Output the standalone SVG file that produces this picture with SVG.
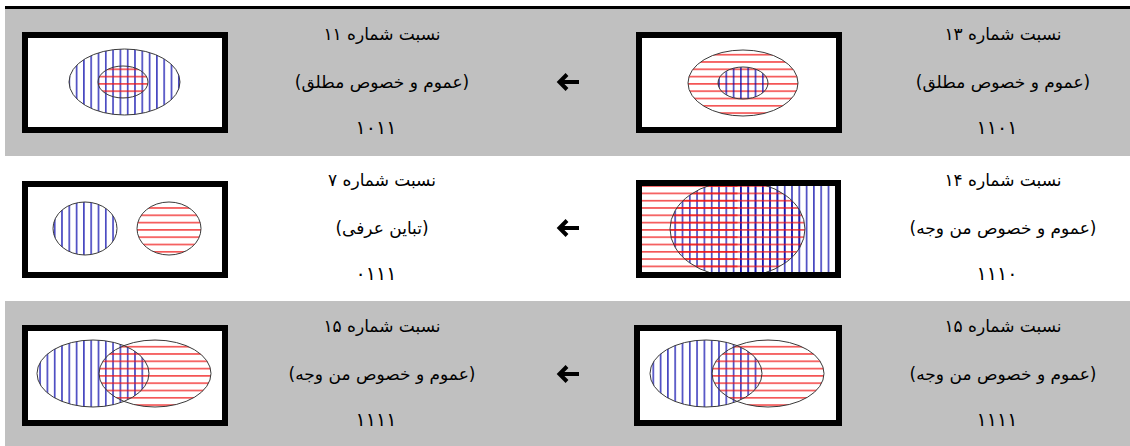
<svg xmlns="http://www.w3.org/2000/svg" width="1130" height="446" viewBox="0 0 1130 446">
<style>
.box{fill:#fff;stroke:#000;stroke-width:6}
.ell{fill:none;stroke:#3a3a3a;stroke-width:1}
.t{font-family:"DejaVu Sans",sans-serif;font-size:17px;fill:#000;text-anchor:middle;direction:rtl}
.d{font-size:19px}
.arr{fill:none;stroke:#000;stroke-width:4;stroke-linejoin:miter}
</style>
<defs>
<pattern id="vb" width="7.3" height="20" patternUnits="userSpaceOnUse"><rect x="3" y="0" width="1.2" height="20" fill="#0000a8"/></pattern>
<pattern id="hr" width="20" height="7.3" patternUnits="userSpaceOnUse"><rect x="0" y="3" width="20" height="1.2" fill="#f01010"/></pattern>
<clipPath id="c14"><rect x="642" y="186" width="193" height="86"/></clipPath>
</defs>
<rect x="0" y="0" width="1130" height="446" fill="#fff"/>
<rect x="5" y="9" width="1125" height="147" fill="#c0c0c0"/>
<rect x="5" y="301" width="1125" height="145" fill="#c0c0c0"/>
<rect x="5" y="6" width="1125" height="3" fill="#000"/>

<g id="n13">
<rect class="box" x="639" y="35" width="200" height="95"/>
<ellipse cx="743" cy="83" rx="55" ry="33" fill="url(#hr)"/>
<ellipse cx="743" cy="83" rx="25" ry="16" fill="url(#vb)"/>
<ellipse class="ell" cx="743" cy="83" rx="55" ry="33"/>
<ellipse class="ell" cx="743" cy="83" rx="25" ry="16"/>
<text class="t" x="1003" y="40">نسبت شماره ۱۳</text>
<text class="t" x="1003" y="88">(عموم و خصوص مطلق)</text>
<text class="t d" x="997" y="134">۱۱۰۱</text>
</g>

<g id="n11">
<rect class="box" x="25" y="35" width="200" height="95"/>
<ellipse cx="124.5" cy="82" rx="55.5" ry="33" fill="url(#vb)"/>
<ellipse cx="123" cy="82" rx="25" ry="16" fill="url(#hr)"/>
<ellipse class="ell" cx="124.5" cy="82" rx="55.5" ry="33"/>
<ellipse class="ell" cx="123" cy="82" rx="25" ry="16"/>
<text class="t" x="382" y="40">نسبت شماره ۱۱</text>
<text class="t" x="382" y="88">(عموم و خصوص مطلق)</text>
<text class="t d" x="376" y="134">۱۰۱۱</text>
</g>

<g id="n14">
<rect class="box" x="639" y="183" width="199" height="92"/>
<g clip-path="url(#c14)">
<ellipse cx="737.5" cy="229" rx="67.5" ry="48" fill="url(#vb)"/>
<rect x="737.5" y="186" width="98" height="86" fill="url(#vb)"/>
<ellipse cx="737.5" cy="229" rx="67.5" ry="48" fill="url(#hr)"/>
<rect x="642" y="186" width="95.5" height="86" fill="url(#hr)"/>
<ellipse class="ell" cx="737.5" cy="229" rx="67.5" ry="48"/>
</g>
<text class="t" x="1003" y="186">نسبت شماره ۱۴</text>
<text class="t" x="1003" y="234">(عموم و خصوص من وجه)</text>
<text class="t d" x="997" y="280">۱۱۱۰</text>
</g>

<g id="n7">
<rect class="box" x="25" y="184" width="200" height="91"/>
<ellipse cx="85" cy="228.5" rx="32" ry="26.5" fill="url(#vb)"/>
<ellipse cx="169" cy="228.5" rx="32" ry="26.5" fill="url(#hr)"/>
<ellipse class="ell" cx="85" cy="228.5" rx="32" ry="26.5"/>
<ellipse class="ell" cx="169" cy="228.5" rx="32" ry="26.5"/>
<text class="t" x="382" y="186">نسبت شماره ۷</text>
<text class="t" x="382" y="234">(تباین عرفی)</text>
<text class="t d" x="376" y="280">۰۱۱۱</text>
</g>

<g id="n15a">
<rect class="box" x="637" y="328" width="202" height="95"/>
<ellipse cx="706" cy="373.5" rx="56" ry="33.5" fill="url(#vb)"/>
<ellipse cx="768" cy="373.5" rx="56" ry="33.5" fill="url(#hr)"/>
<ellipse class="ell" cx="706" cy="373.5" rx="56" ry="33.5"/>
<ellipse class="ell" cx="768" cy="373.5" rx="56" ry="33.5"/>
<text class="t" x="1003" y="332">نسبت شماره ۱۵</text>
<text class="t" x="1003" y="380">(عموم و خصوص من وجه)</text>
<text class="t d" x="997" y="426">۱۱۱۱</text>
</g>

<g id="n15b">
<rect class="box" x="25" y="328" width="200" height="95"/>
<ellipse cx="93" cy="373.5" rx="56" ry="33.5" fill="url(#vb)"/>
<ellipse cx="155" cy="373.5" rx="56" ry="33.5" fill="url(#hr)"/>
<ellipse class="ell" cx="93" cy="373.5" rx="56" ry="33.5"/>
<ellipse class="ell" cx="155" cy="373.5" rx="56" ry="33.5"/>
<text class="t" x="382" y="332">نسبت شماره ۱۵</text>
<text class="t" x="382" y="380">(عموم و خصوص من وجه)</text>
<text class="t d" x="376" y="426">۱۱۱۱</text>
</g>

<g id="connectors">
<path class="arr" d="M579 82H560M567 74.5L559.5 82L567 89.5"/>
<path class="arr" d="M579 228H560M567 220.5L559.5 228L567 235.5"/>
<path class="arr" d="M579 374H560M567 366.5L559.5 374L567 381.5"/>
</g>
</svg>
